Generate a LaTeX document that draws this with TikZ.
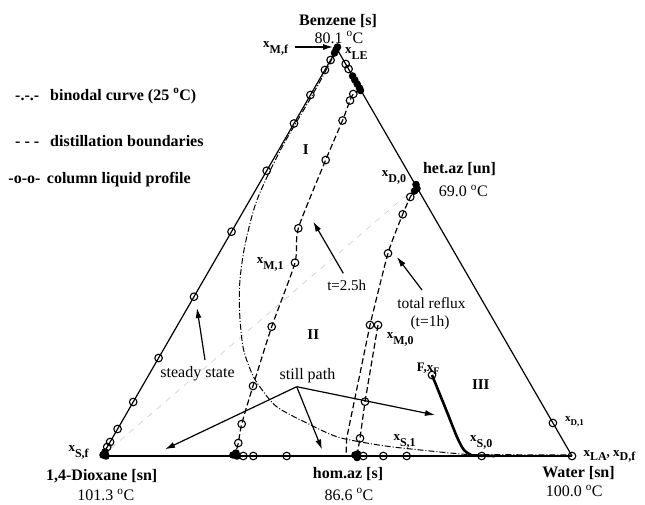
\documentclass[tikz,border=0pt]{standalone}
\usepackage{fontspec}
\setmainfont{Liberation Serif}
\usetikzlibrary{arrows.meta,calc}
\newcommand{\xsub}[2][6pt]{{\fontsize{13}{13}\selectfont\bfseries x\raisebox{-#1}{\fontsize{12}{12}\selectfont #2}}}
\newcommand{\degc}{\textsuperscript{o}C}
\begin{document}
\begin{tikzpicture}[x=1pt,y=-1pt,
  tri/.style={line width=1.2pt},
  mk/.style={line width=1.1pt},
  prof/.style={line width=1.2pt, dash pattern=on 6pt off 3pt},
  bino/.style={line width=1pt, dash pattern=on 6pt off 2pt on 1pt off 2pt},
  bound/.style={gray!45, line width=0.5pt, dash pattern=on 6pt off 6pt},
  arr/.style={line width=1.2pt, -{Latex[length=10pt,width=6pt]}},
  lbl/.style={font=\fontsize{16}{18}\selectfont\bfseries, inner sep=0pt},
  txt/.style={font=\fontsize{16}{18}\selectfont, inner sep=0pt},
  xl/.style={inner sep=0pt, anchor=base west}]
\useasboundingbox (0,0) rectangle (645,504);
\coordinate (B) at (337,49);
\coordinate (D) at (102,456);
\coordinate (W) at (572,456);
\coordinate (HE) at (416,187);
% distillation boundary (gray)
\draw[bound] (D) -- (HE);
% binodal curve
\draw[bino] plot[smooth, tension=0.5] coordinates {(337,49) (323.5,75) (309.5,100) (280.5,150) (257,200) (245,245) (240,280) (239.5,310) (243,347) (251.7,373) (260,387) (276.7,406.7) (306.7,423) (336.7,436.7) (366.7,443) (393,447) (440,452) (467,454.5)} -- (572,455);
% column profile t=2.5h
\draw[prof] plot[smooth, tension=0.4] coordinates {(361,90) (353.3,94) (350,100.5) (342.5,120.5) (325.7,160) (298.3,228.3) (295,262.7) (271.7,326.7) (253,386) (241.7,424) (238.3,443) (235,455)};
% total reflux profile
\draw[prof] plot[smooth, tension=0.4] coordinates {(HE) (410.3,197) (402.7,214.3) (388,253.3) (370,325)} -- (346.7,438) -- (346,456);
\draw[prof] (378,325) -- (365,401.7) -- (360,438.3) -- (357,455);
% triangle
\draw[tri] (D) -- (B) -- (W);
\draw[line width=1.5pt] (D) -- (W);
\draw[line width=2.6pt, dash pattern=on 6pt off 1.5pt] (D) -- (235,456);
% feed / still path thick
\draw[line width=2.6pt] plot[smooth, tension=0.5] coordinates {(432,375) (447,412) (457,437) (464,450) (472,455.5)} -- (495,456);
% open circles
\foreach \p in {(330.6,60),(324.9,70),(310.4,95),(294,123.5),(266.7,170.7),(231.5,231.7),(194,296.7),(158.6,358),(133.2,402),(117.6,429),(110.1,442),(107.2,447),
  (345.7,64),(348.6,69),(552.9,423),
  (353.3,94),(350,100.5),(342.5,120.5),(325.7,160),(298.3,228.3),(295,262.7),(271.7,326.7),(253,386),(241.7,424),(238.3,443),
  (410.3,197),(402.7,214.3),(388,253.3),(370,325),(378,325),(365,401.7),(360,438.3),
  (243.3,456),(253.3,456),(286.7,456),(363.3,456),(383.3,456),(406.7,456),(481.7,456),(572,456),(432,375)}
  \draw[mk] \p circle[radius=3.8pt];
% filled clusters
\foreach \p in {(337.5,47),(336,50),(334.5,53),
  (352.6,76),(354.8,80),(357.2,84),(359.5,88),(360.5,90.5),
  (416,184.5),(417,188.5),(414.5,191),
  (103,455),(105,452),(106,456),
  (233,455),(236,453),(237,456),
  (355,455),(357.5,454),(357,457.5)}
  \fill \p circle[radius=3.8pt];
% arrows
\coordinate (mfa) at (295,47);
\coordinate (mfb) at (333,47);
\draw[arr] (mfa) -- (mfb);
\coordinate (ssa) at (205,360);
\coordinate (ssb) at (197,308);
\draw[arr] (ssa) -- (ssb);
\coordinate (t25a) at (343.3,273.3);
\coordinate (t25b) at (313.3,221.7);
\draw[arr] (t25a) -- (t25b);
\coordinate (tra) at (422,290);
\coordinate (trb) at (397,257);
\draw[arr] (tra) -- (trb);
\coordinate (sp) at (296.7,386.7);
\coordinate (sp1) at (165,449.3);
\coordinate (sp2) at (322,449.5);
\coordinate (sp3) at (435,415);
\draw[arr] (sp) -- (sp1);
\draw[arr] (sp) -- (sp2);
\draw[arr] (sp) -- (sp3);
% legend
\node[lbl, anchor=base west] (lm1) at (15,100) {-.-.-};
\node[lbl, anchor=base west] (lg1) at (50,100) {binodal curve (25 \degc)};
\node[lbl, anchor=base west] (lm2) at (15,146) {- - -};
\node[lbl, anchor=base west] (lg2) at (50,146) {distillation boundaries};
\node[lbl, anchor=base west] (lm3) at (8.3,183) {-o-o-};
\node[lbl, anchor=base west] (lg3) at (46.7,183) {column liquid profile};
% vertex labels
\node[lbl] (benz) at (338,21) {Benzene [s]};
\node[txt] (tbenz) at (339,37.5) {80.1 \degc};
\node[lbl] (het) at (459.5,169) {het.az [un]};
\node[txt] (thet) at (463.3,190.8) {69.0 \degc};
\node[lbl] (diox) at (101.7,476) {1,4-Dioxane [sn]};
\node[txt] (tdiox) at (105.8,495) {101.3 \degc};
\node[lbl] (hom) at (348,474.5) {hom.az [s]};
\node[txt] (thom) at (349,494.5) {86.6 \degc};
\node[lbl] (wat) at (578.5,473) {Water [sn]};
\node[txt] (twat) at (574.2,491) {100.0 \degc};
% region labels
\node[lbl, font=\fontsize{15}{17}\selectfont\bfseries] (r1) at (305.8,150) {I};
\node[lbl, font=\fontsize{15}{17}\selectfont\bfseries] (r2) at (313.3,334.2) {II};
\node[lbl, font=\fontsize{15}{17}\selectfont\bfseries] (r3) at (480.8,385) {III};
% annotation texts
\node[txt, font=\fontsize{15}{17}\selectfont] (t25) at (346.7,285) {t=2.5h};
\node[txt, font=\fontsize{15.5}{17}\selectfont] (tr1) at (431.5,303.5) {total reflux};
\node[txt, font=\fontsize{15.5}{17}\selectfont] (tr2) at (430,322.5) {(t=1h)};
\node[txt] (ss) at (197.5,374) {steady state};
\node[txt] (stp) at (307.5,375.8) {still path};
% composition labels
\node[xl] (xmf) at (263,47) {\xsub{M,f}};
\node[xl] (xle) at (345,53.3) {\xsub{LE}};
\node[xl] (xd0) at (381.7,176.7) {\xsub{D,0}};
\node[xl] (xm1) at (256.7,263.3) {\xsub{M,1}};
\node[xl] (xm0) at (386.7,338.3) {\xsub{M,0}};
\node[xl] (xs1) at (393.3,440) {\xsub{S,1}};
\node[xl] (xs0) at (470,441.7) {\xsub{S,0}};
\node[xl] (xsf) at (68.3,451.7) {\xsub{S,f}};
\node[xl] (xla) at (583.3,456) {\xsub[4pt]{LA}{\fontsize{13}{13}\selectfont\bfseries, }\xsub[4pt]{D,f}};
\node[xl] (xd1) at (565,421.7) {{\fontsize{11}{11}\selectfont\bfseries x\raisebox{-4pt}{\fontsize{9}{9}\selectfont D,1}}};
\node[xl] (fxf) at (416.7,371.7) {{\fontsize{13}{13}\selectfont\bfseries F,x\raisebox{-3pt}{\fontsize{10}{10}\selectfont F}}};
\end{tikzpicture}
\end{document}
